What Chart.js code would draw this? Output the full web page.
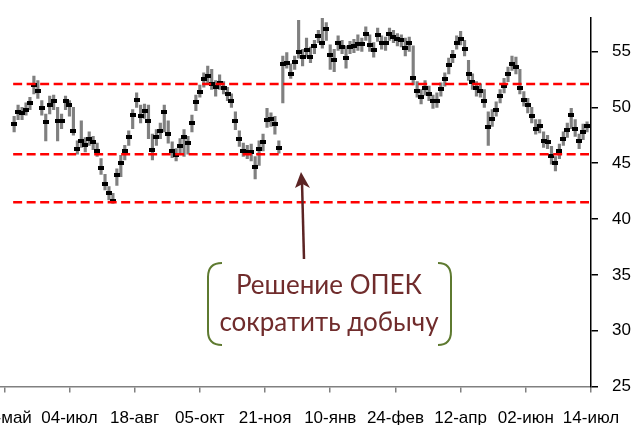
<!DOCTYPE html>
<html>
<head>
<meta charset="utf-8">
<script src="https://cdn.jsdelivr.net/npm/chart.js@4.4.0/dist/chart.umd.min.js"></script>
<style>
  html, body { margin: 0; padding: 0; background: #fff; overflow: hidden; }
  #wrap { position: relative; width: 634px; height: 425px; overflow: hidden; }
  #brentChart { position: absolute; left: -60px; top: 0; }
  #overlay { position: absolute; left: 0; top: 0; }
  #note { position: absolute; left: 207px; top: 266px; width: 244px; text-align: center;
          font: 26px Lato, sans-serif; line-height: 37px; color: #702c2c; }
</style>
</head>
<body>
<div id="wrap">
  <canvas id="brentChart" width="694" height="425"></canvas>
  <svg id="overlay" width="634" height="425">
    <path d="M222 263 Q208 263 208 277 L208 331 Q208 345 222 345" fill="none" stroke="#5e7a30" stroke-width="2"/>
    <path d="M438 263 Q451 263 451 277 L451 331 Q451 345 438 345" fill="none" stroke="#5e7a30" stroke-width="2"/>
    <line x1="304" y1="259" x2="302" y2="182" stroke="#5c2424" stroke-width="2.5"/>
    <path d="M301 172 L310 188 L302.5 184 L295 188 Z" fill="#5c2424"/>
  </svg>
  <div id="note">Решение ОПЕК<br>сократить добычу</div>
</div>
<script>
// tick labels, one every 33 trading days
const xLabels = ['19-май', '04-июл', '18-авг', '05-окт', '21-ноя', '10-янв', '24-фев', '12-апр', '02-июн', '14-июл'];
const labelDays = [0, 33, 66, 99, 132, 165, 198, 231, 264, 297];

// one bar every second trading day, starting at day 5
const firstDay = 5;
const dayStep = 2;

const closes = [48.5, 49.6, 49.5, 49.8, 50.4, 52.0, 51.5, 49.9, 48.7, 50.2,
  50.6, 48.8, 48.8, 50.6, 50.2, 47.9, 46.3, 47.0, 46.6, 47.2,
  46.9, 46.1, 44.6, 43.1, 42.3, 41.6, 43.9, 45.0, 46.1, 47.3,
  49.3, 50.7, 49.2, 49.7, 48.8, 46.2, 47.3, 47.9, 49.6, 47.6,
  46.1, 45.7, 46.5, 47.3, 46.8, 48.6, 50.5, 51.4, 52.5, 52.8,
  52.1, 51.8, 52.2, 51.7, 51.2, 50.6, 48.8, 47.2, 46.1, 46.0,
  46.0, 44.7, 46.3, 46.9, 48.9, 49.0, 48.5, 46.4, 53.9, 54.0,
  53.0, 54.1, 55.0, 54.5, 55.1, 54.5, 55.5, 56.4, 55.8, 57.0,
  54.7, 54.2, 55.8, 55.4, 54.4, 55.4, 55.5, 55.7, 55.7, 56.6,
  55.6, 55.1, 56.5, 55.8, 55.8, 56.6, 56.3, 56.1, 56.0, 55.3,
  55.8, 52.6, 51.5, 50.9, 51.7, 51.2, 50.6, 50.6, 51.6, 52.5,
  53.8, 54.6, 55.8, 56.1, 55.2, 53.0, 52.3, 51.7, 51.5, 50.6,
  48.2, 49.0, 49.8, 51.0, 51.9, 53.0, 53.9, 53.6, 51.7, 50.7,
  50.2, 49.2, 48.1, 48.3, 47.0, 46.9, 45.6, 45.0, 46.1, 47.2,
  48.0, 49.3, 48.1, 47.0, 47.8, 48.3];

const highs = [49.2, 50.2, 50.0, 50.4, 50.9, 52.8, 52.4, 50.6, 49.4, 51.0,
  51.1, 50.0, 49.4, 51.0, 50.6, 50.0, 47.0, 48.8, 47.3, 47.8,
  47.4, 46.8, 45.4, 44.0, 42.9, 42.3, 44.5, 45.7, 46.6, 47.9,
  49.8, 51.3, 50.2, 50.3, 50.2, 47.6, 48.0, 48.6, 50.2, 48.8,
  46.9, 46.3, 47.2, 48.0, 47.4, 49.3, 51.1, 52.0, 53.1, 53.7,
  53.4, 52.4, 52.9, 52.3, 51.8, 51.2, 49.6, 47.9, 46.8, 46.6,
  46.7, 45.6, 47.0, 47.6, 49.9, 49.5, 49.2, 47.0, 54.6, 54.9,
  53.9, 54.6, 57.8, 55.2, 56.2, 55.4, 56.0, 56.9, 58.0, 57.6,
  55.6, 55.2, 56.4, 56.0, 55.5, 55.9, 56.1, 56.5, 56.2, 57.2,
  56.5, 55.8, 57.1, 56.4, 56.3, 57.1, 56.9, 56.6, 56.5, 56.2,
  56.3, 55.5, 52.3, 51.6, 52.4, 51.9, 51.1, 51.3, 52.2, 53.1,
  54.4, 55.1, 56.4, 56.8, 56.0, 54.2, 53.0, 52.3, 52.1, 51.6,
  49.6, 49.8, 50.5, 51.6, 52.6, 53.6, 54.6, 54.5, 53.4, 51.4,
  50.8, 50.0, 48.9, 48.9, 47.8, 47.5, 46.5, 45.6, 46.7, 47.8,
  48.6, 49.9, 48.9, 47.6, 48.5, 48.7];

const lows = [47.8, 48.9, 48.9, 49.3, 49.8, 51.2, 50.8, 49.3, 47.0, 49.4,
  49.8, 47.0, 48.1, 49.8, 49.2, 47.5, 45.8, 46.4, 46.0, 46.6,
  46.2, 45.6, 44.0, 42.6, 41.7, 41.4, 43.0, 43.8, 45.3, 46.6,
  48.1, 50.0, 48.6, 49.0, 47.2, 45.3, 46.6, 47.2, 47.8, 46.8,
  45.5, 45.2, 45.8, 45.6, 45.8, 47.8, 49.7, 50.9, 51.8, 52.1,
  51.6, 51.0, 51.6, 51.2, 50.6, 50.0, 48.0, 46.5, 45.6, 45.4,
  45.2, 43.6, 44.8, 46.1, 48.2, 48.3, 47.6, 45.9, 50.4, 53.5,
  52.6, 53.4, 54.4, 53.7, 54.5, 54.0, 54.8, 55.8, 55.3, 56.0,
  53.4, 53.2, 55.1, 54.8, 53.5, 54.8, 54.9, 55.1, 55.0, 56.0,
  55.0, 54.5, 55.9, 55.2, 55.1, 56.0, 55.8, 55.5, 55.4, 54.6,
  55.0, 52.0, 50.9, 50.3, 51.1, 50.6, 49.9, 50.0, 51.0, 51.9,
  53.0, 54.0, 55.2, 55.6, 54.6, 52.4, 51.6, 51.0, 50.9, 50.0,
  46.6, 48.3, 49.2, 50.4, 51.3, 52.3, 53.3, 53.0, 51.2, 50.1,
  49.5, 48.6, 47.6, 47.7, 46.4, 46.3, 44.9, 44.3, 45.4, 46.6,
  47.3, 48.1, 47.4, 46.3, 47.1, 47.8];

// red dashed levels
const levels = [52.1, 45.8, 41.5];
const levelFrom = 4.5;
const levelTo = 296;

const days = closes.map((c, i) => firstDay + i * dayStep);

// small black body used as the point marker
const body = document.createElement('canvas');
body.width = 6;
body.height = 4;
const bctx = body.getContext('2d');
bctx.fillStyle = '#000';
bctx.fillRect(0, 0, 6, 4);

Chart.defaults.font.family = "'Liberation Sans', Arial, sans-serif";
Chart.defaults.font.size = 17;
Chart.defaults.color = '#000';

const datasets = [
  {
    type: 'bar',
    data: days.map((d, i) => ({ x: d, y: [lows[i], highs[i]] })),
    backgroundColor: '#808080',
    barThickness: 2.5,
    order: 3
  },
  {
    type: 'line',
    data: days.map((d, i) => ({ x: d, y: closes[i] })),
    showLine: false,
    pointStyle: body,
    pointRadius: 3,
    order: 2
  }
];
levels.forEach(v => datasets.push({
  type: 'line',
  data: [{ x: levelFrom, y: v }, { x: levelTo, y: v }],
  borderColor: '#ff0000',
  borderWidth: 2.5,
  borderDash: [9, 4.5],
  pointRadius: 0,
  order: 1
}));

new Chart(document.getElementById('brentChart'), {
  type: 'bar',
  data: { datasets },
  options: {
    responsive: false,
    animation: false,
    layout: { padding: { top: 18, left: 0, right: 0, bottom: 0 } },
    plugins: { legend: { display: false }, tooltip: { enabled: false } },
    scales: {
      x: {
        type: 'linear',
        min: -30,
        max: 297,
        offset: false,
        grid: { offset: false, drawOnChartArea: false, tickLength: 6, color: '#808080', lineWidth: 1.5 },
        border: { color: '#808080', width: 1.5 },
        afterBuildTicks: s => { s.ticks = labelDays.map(v => ({ value: v })); },
        afterFit: s => { s.height = 38.5; s.paddingLeft = 0; s.paddingRight = 0; },
        ticks: {
          autoSkip: false,
          maxRotation: 0,
          padding: 16,
          callback: v => xLabels[labelDays.indexOf(v)]
        }
      },
      y: {
        position: 'right',
        min: 25,
        max: 58,
        grid: { drawOnChartArea: false, tickLength: 7, color: '#000', lineWidth: 1.5 },
        border: { color: '#000', width: 1.5 },
        afterFit: s => { s.width = 43; s.paddingTop = 0; s.paddingBottom = 0; },
        ticks: { stepSize: 5, includeBounds: false, padding: 14 }
      }
    }
  }
});
</script>
</body>
</html>
